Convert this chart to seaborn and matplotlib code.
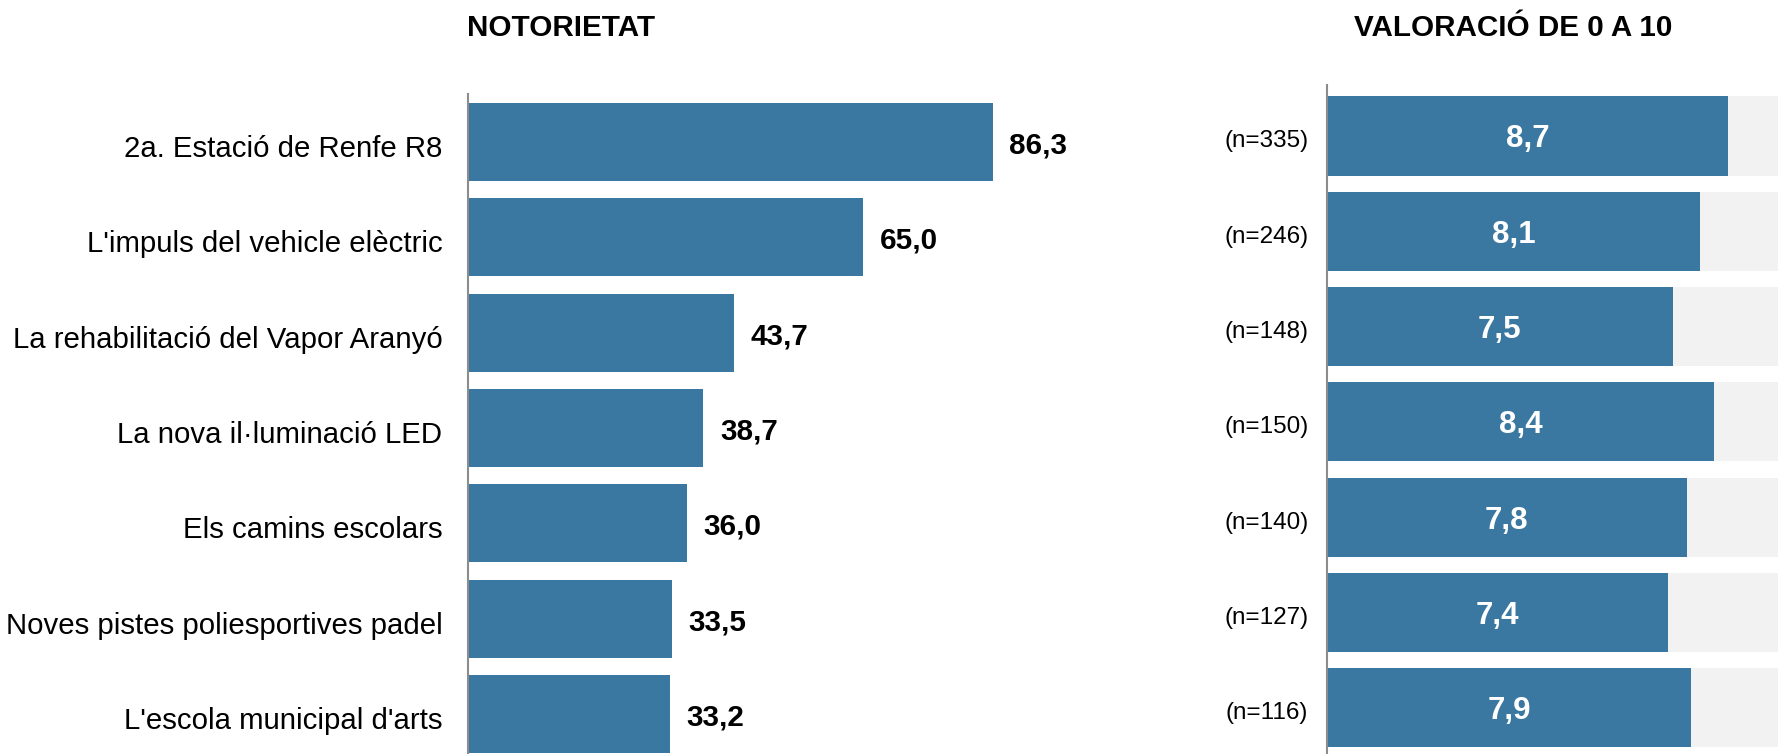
import matplotlib
matplotlib.use("Agg")
import matplotlib.pyplot as plt
import matplotlib.transforms as mtransforms
import seaborn as sns
import pandas as pd

# Survey results: awareness (%) and rating (0-10) of municipal actions
items = [
    "2a. Estació de Renfe R8",
    "L'impuls del vehicle elèctric",
    "La rehabilitació del Vapor Aranyó",
    "La nova il·luminació LED",
    "Els camins escolars",
    "Noves pistes poliesportives padel",
    "L'escola municipal d'arts",
]
notorietat = [86.3, 65.0, 43.7, 38.7, 36.0, 33.5, 33.2]
valoracio = [8.7, 8.1, 7.5, 8.4, 7.8, 7.4, 7.9]
n_resp = [335, 246, 148, 150, 140, 127, 116]
scale_max = [10] * len(items)

title_left = "NOTORIETAT"
title_right = "VALORACIÓ DE 0 A 10"

BLUE = "#3a77a1"
TRACK = "#f2f2f2"
AXIS_GRAY = "#8c8c8c"

sns.set_style("white")
plt.rcParams["font.family"] = ["Liberation Sans", "DejaVu Sans"]

df = pd.DataFrame({
    "item": items,
    "notorietat": notorietat,
    "valoracio": valoracio,
    "n": n_resp,
    "max": scale_max,
})

W, H = 1778, 754
fig = plt.figure(figsize=(W / 100, H / 100), dpi=100)

def fx(px):
    return px / W

def fy(px):
    return px / H

def nudge_labels(ax, dy_px):
    shift = mtransforms.ScaledTranslation(0, -dy_px / 100, fig.dpi_scale_trans)
    for lab in ax.get_yticklabels():
        lab.set_transform(lab.get_transform() + shift)

# Left panel: awareness bars
ax_l = fig.add_axes([fx(468), 0, fx(608), fy(754 - 94)])
sns.barplot(data=df, x="notorietat", y="item", orient="h", color=BLUE,
            saturation=1, width=0.82, edgecolor="none", ax=ax_l)
ax_l.set_xlim(0, 100)
ax_l.set_ylim(6.42, -0.504)
for i, v in enumerate(df["notorietat"]):
    ax_l.annotate(f"{v:.1f}".replace(".", ","), xy=(v, i), xytext=(12, -2.5),
                  textcoords="offset points", ha="left", va="center",
                  fontsize=21.3, fontweight="bold", color="black")

# Right panel: rating bars over a light 0-10 track
ax_r = fig.add_axes([fx(1327), 0, fx(461), fy(754 - 85)])
sns.barplot(data=df, x="max", y="item", orient="h", color=TRACK,
            saturation=1, width=0.83, edgecolor="none", ax=ax_r)
sns.barplot(data=df, x="valoracio", y="item", orient="h", color=BLUE,
            saturation=1, width=0.83, edgecolor="none", ax=ax_r)
ax_r.set_xlim(0, 10)
ax_r.set_ylim(6.485, -0.535)
for i, v in enumerate(df["valoracio"]):
    ax_r.annotate(f"{v:.1f}".replace(".", ","), xy=(v / 2, i), xytext=(0, -2.5),
                  textcoords="offset points", ha="center", va="center",
                  fontsize=22.5, fontweight="bold", color="white")
ax_r.set_yticks(range(len(items)))
ax_r.set_yticklabels([f"(n={n})" for n in df["n"]])

for ax, pad, fs in ((ax_l, 18.5, 21.2), (ax_r, 13.5, 17.5)):
    ax.set_xlabel("")
    ax.set_ylabel("")
    ax.set_xticks([])
    ax.tick_params(axis="y", length=0, pad=pad, labelsize=fs, labelcolor="black")
    for side in ("top", "right", "bottom"):
        ax.spines[side].set_visible(False)
    ax.spines["left"].set_color(AXIS_GRAY)
    ax.spines["left"].set_linewidth(1.5)
    ax.patch.set_alpha(0)

nudge_labels(ax_l, 4)
nudge_labels(ax_r, 3)

fig.text(fx(467), 1 - fy(28), title_left, ha="left", va="center",
         fontsize=21.3, fontweight="bold", color="black")
fig.text(fx(1513), 1 - fy(28), title_right, ha="center", va="center",
         fontsize=21.3, fontweight="bold", color="black")

fig.savefig("out.png", dpi=100, facecolor="white")
